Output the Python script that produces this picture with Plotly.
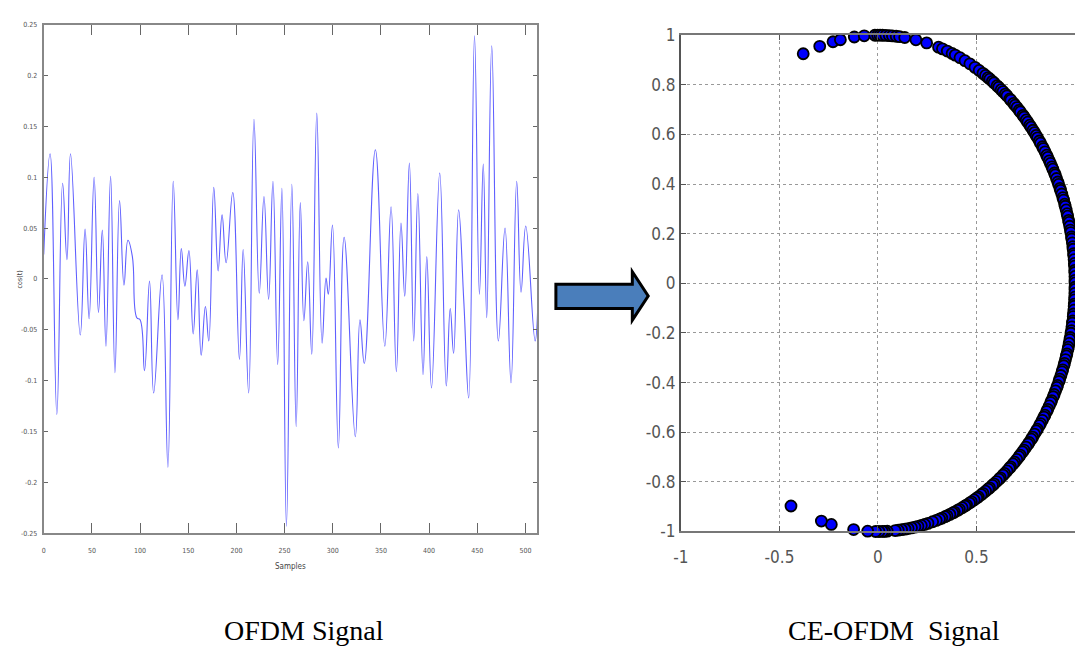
import numpy as np
import plotly.graph_objects as go

W, H = 1075, 652

# ---- OFDM time-domain signal: turning points (sample index, amplitude) ----
ofdm_n = [0, 6.6, 13.6, 19.6, 24.1, 27.8, 37.9, 42.9, 47.1, 52.3, 56.8, 60.8,
          64.6, 69.4, 73.9, 78.7, 83.3, 87.4, 92.0, 96.6, 100.0, 104.6, 109.8,
          114.1, 122.8, 128.9, 134.4, 139.3, 142.8, 146.5, 150.7, 155.1, 159.3,
          163.4, 167.8, 171.3, 176.5, 181.0, 185.1, 189.3, 196.2, 203.1, 207.0,
          212.7, 218.2, 223.7, 228.6, 233.4, 237.9, 242.8, 247.2, 251.9, 257.5,
          262.0, 266.3, 270.0, 274.0, 278.2, 283.4, 288.9, 293.0, 295.4, 299.7,
          305.8, 311.8, 323.4, 328.2, 332.7, 344.2, 354.0, 360.5, 366.0, 370.8,
          374.7, 379.5, 384.0, 388.3, 393.7, 397.6, 402.5, 411.0, 417.8, 421.9,
          425.4, 430.6, 436.0, 441.1, 447.1, 452.2, 456.2, 459.8, 465.0, 471.9,
          478.8, 485.0, 490.9, 495.4, 500.3, 510.0, 513.0]
ofdm_v = [0.024, 0.123, -0.133, 0.094, 0.019, 0.123, -0.055, 0.049, -0.039,
          0.100, -0.033, 0.048, -0.066, 0.101, -0.092, 0.077, -0.006, 0.038,
          0.022, -0.038, -0.040, -0.090, -0.002, -0.112, 0.004, -0.185, 0.096,
          -0.040, 0.030, -0.007, 0.028, -0.054, 0.009, -0.075, -0.027, -0.061,
          0.090, 0.008, 0.063, 0.016, 0.085, -0.079, 0.029, -0.112, 0.157,
          -0.014, 0.081, -0.020, 0.096, -0.084, 0.089, -0.243, 0.093, -0.145,
          0.075, -0.041, 0.017, -0.074, 0.163, -0.063, 0.001, -0.015, 0.053,
          -0.166, 0.041, -0.155, -0.040, -0.083, 0.127, -0.066, 0.071, -0.091,
          0.055, -0.017, 0.114, -0.061, 0.084, -0.094, 0.022, -0.107, 0.104,
          -0.105, -0.029, -0.073, 0.068, -0.022, -0.117, 0.239, -0.015, 0.113,
          -0.038, 0.229, -0.061, 0.050, -0.102, 0.096, -0.013, 0.052, -0.061,
          -0.020]

ofdm_xticks = [0, 50, 100, 150, 200, 250, 300, 350, 400, 450, 500]
ofdm_yticks = [-0.25, -0.2, -0.15, -0.1, -0.05, 0, 0.05, 0.1, 0.15, 0.2, 0.25]
ofdm_ylabels = ["-0.25", "-0.2", "-0.15", "-0.1", "-0.05", "0",
                "0.05", "0.1", "0.15", "0.2", "0.25"]

# ---- CE-OFDM constellation: phase of each sample, degrees ----
phase_top = [112.3, 107.2, 103.2, 101.0, 96.9, 94.0, 90.9, 90.1, 89.4, 88.7,
             87.7, 86.7, 85.8, 84.7, 83.7, 82.2, 78.9, 75.7, 72.1, 70.9, 69.4,
             67.9, 66.9, 65.4, 63.8, 62.2, 60.5, 59.1, 57.8]
phase_band = [56.9, 56.0, 55.4, 54.5, 53.9, 52.8, 52.2, 51.3, 50.6, 49.7, 49.1,
              48.0, 47.6, 46.5, 45.9, 45.1, 44.2, 43.7, 42.6, 42.1, 41.2, 40.5,
              39.6, 39.0, 38.1, 37.4, 36.6, 35.9, 35.0, 34.4, 33.4, 32.9, 32.0,
              31.1, 30.5, 29.6, 28.9, 28.0, 27.4, 26.4, 25.9, 25.0, 24.1, 23.5,
              22.5, 22.0, 21.1, 20.2, 19.6, 18.6, 18.1, 17.2, 16.3, 15.7, 14.7,
              14.2, 13.3, 12.4, 11.8, 10.8, 10.3, 9.4, 8.5, 7.9, 6.9, 6.4, 5.5,
              4.6, 4.0, 3.0, 2.5, 1.6, 0.7, 0.1, -0.9, -1.4, -2.3, -3.2, -3.8,
              -4.8, -5.3, -6.2, -7.1, -7.7, -8.7, -9.2, -10.1, -11.0, -11.6,
              -12.6, -13.1, -14.0, -14.9, -15.5, -16.5, -17.0, -17.9, -18.8,
              -19.4, -20.4, -20.9, -21.8, -22.7, -23.3, -24.3, -24.8, -25.7,
              -26.6, -27.2, -28.2, -28.7, -29.6, -30.5, -31.1, -32.1, -32.6,
              -33.5, -34.4, -35.0, -36.0, -36.5, -37.4, -38.3, -38.9, -39.9,
              -40.4, -41.3, -42.2, -42.8, -43.8, -44.3, -45.2, -46.1, -46.7,
              -47.7, -48.2, -49.1, -50.0, -50.6, -51.6, -52.1, -53.0, -53.9,
              -54.5, -55.5, -56.0, -56.9, -57.8, -58.4, -59.4, -59.9, -60.8,
              -61.7, -62.3, -63.3, -63.8, -64.7, -65.6, -66.2, -67.2, -67.7,
              -68.6, -69.5, -70.1, -71.1, -71.8]
phase_bottom = [-72.8, -73.9, -75.3, -76.3, -77.3, -78.3, -79.2, -80.2, -81.2,
                -82.1, -83.1, -84.1, -85.0, -87.3, -88.1, -88.7, -89.7, -90.7,
                -93.0, -97.1, -103.7, -106.7, -116.2]

ce_xticks = [-1, -0.5, 0, 0.5]
ce_xlabels = ["-1", "-0.5", "0", "0.5"]
ce_yticks = [-1, -0.8, -0.6, -0.4, -0.2, 0, 0.2, 0.4, 0.6, 0.8, 1]
ce_ylabels = ["-1", "-0.8", "-0.6", "-0.4", "-0.2", "0",
              "0.2", "0.4", "0.6", "0.8", "1"]

phase_deg = np.array(phase_top + phase_band + phase_bottom)
ce_i = np.cos(np.radians(phase_deg))
ce_q = np.sin(np.radians(phase_deg))


def px(x):
    return x / W


def py(y):
    return 1 - y / H


fig = go.Figure()

fig.add_trace(go.Scatter(
    x=ofdm_n, y=ofdm_v, mode="lines", xaxis="x", yaxis="y",
    line=dict(color="rgb(95,95,255)", width=1.1, shape="spline", smoothing=1.25),
    hoverinfo="skip", showlegend=False))

fig.add_trace(go.Scatter(
    x=ce_i, y=ce_q, mode="markers", xaxis="x2", yaxis="y2",
    marker=dict(size=11, color="#0000ff", line=dict(color="black", width=1.8)),
    cliponaxis=False, hoverinfo="skip", showlegend=False))

narrow = "Liberation Sans Narrow, DejaVu Sans Condensed, sans-serif"
small_font = dict(family=narrow, size=7, color="#555")
tick_font = dict(family=narrow, size=17, color="#555")

fig.update_layout(
    width=W, height=H, autosize=False,
    margin=dict(l=0, r=0, t=0, b=0),
    paper_bgcolor="white", plot_bgcolor="white",
    xaxis=dict(domain=[px(36), px(533)], range=[0, 512], anchor="y",
               tickvals=ofdm_xticks, ticktext=[str(t) for t in ofdm_xticks],
               ticks="inside", ticklen=10, tickcolor="#666", tickwidth=1,
               ticklabelstandoff=9,
               showgrid=False, zeroline=False, showline=True, linecolor="#888",
               linewidth=2, mirror="allticks", tickfont=small_font),
    yaxis=dict(domain=[py(540), py(15)], range=[-0.25, 0.25], anchor="x",
               tickvals=ofdm_yticks, ticktext=ofdm_ylabels,
               ticks="inside", ticklen=4, tickcolor="#666", tickwidth=1,
               ticklabelstandoff=3,
               showgrid=False, zeroline=False, showline=True, linecolor="#888",
               linewidth=2, mirror="allticks", tickfont=small_font),
    xaxis2=dict(domain=[px(678), 1.0], range=[-1, 1.0], anchor="y2",
                tickvals=ce_xticks, ticktext=ce_xlabels,
                ticks="inside", ticklen=5, tickcolor="#555",
                ticklabelstandoff=9,
                showgrid=True, gridcolor="#999", griddash="dot", gridwidth=1,
                zeroline=False, showline=True, linecolor="#777", linewidth=2,
                mirror="ticks", tickfont=tick_font),
    yaxis2=dict(domain=[py(538), py(26)], range=[-1, 1], anchor="x2",
                tickvals=ce_yticks, ticktext=ce_ylabels,
                ticks="inside", ticklen=5, tickcolor="#555",
                showgrid=True, gridcolor="#999", griddash="dot", gridwidth=1,
                zeroline=False, showline=True, linecolor="#555", linewidth=2,
                tickfont=tick_font),
)

# block arrow between the two panels
arrow_pts = [(552, 283), (629, 283), (629, 270), (645, 295), (629, 320),
             (629, 308), (552, 308)]
path = "M " + " L ".join(f"{px(x):.5f},{py(y):.5f}" for x, y in arrow_pts) + " Z"
fig.add_shape(type="path", path=path, xref="paper", yref="paper",
              fillcolor="#4a7ebb", line=dict(color="black", width=3))

serif = "Liberation Serif, Times New Roman, serif"
annotations = [
    dict(text="OFDM Signal", x=px(298), y=py(640), xref="paper", yref="paper",
         showarrow=False, xanchor="center", yanchor="middle",
         font=dict(family=serif, size=28, color="black")),
    dict(text="CE-OFDM  Signal", x=px(893), y=py(640), xref="paper",
         yref="paper", showarrow=False, xanchor="center", yanchor="middle",
         font=dict(family=serif, size=28, color="black")),
    dict(text="Samples", x=px(285), y=py(574), xref="paper", yref="paper",
         showarrow=False, xanchor="center", yanchor="middle",
         font=dict(family=narrow, size=8, color="#444")),
    dict(text="cos(t)", x=px(13), y=py(278), xref="paper", yref="paper",
         showarrow=False, textangle=-90, xanchor="center", yanchor="middle",
         font=dict(family=narrow, size=7, color="#444")),
]
fig.update_layout(annotations=annotations)

fig.write_html("out.html")
